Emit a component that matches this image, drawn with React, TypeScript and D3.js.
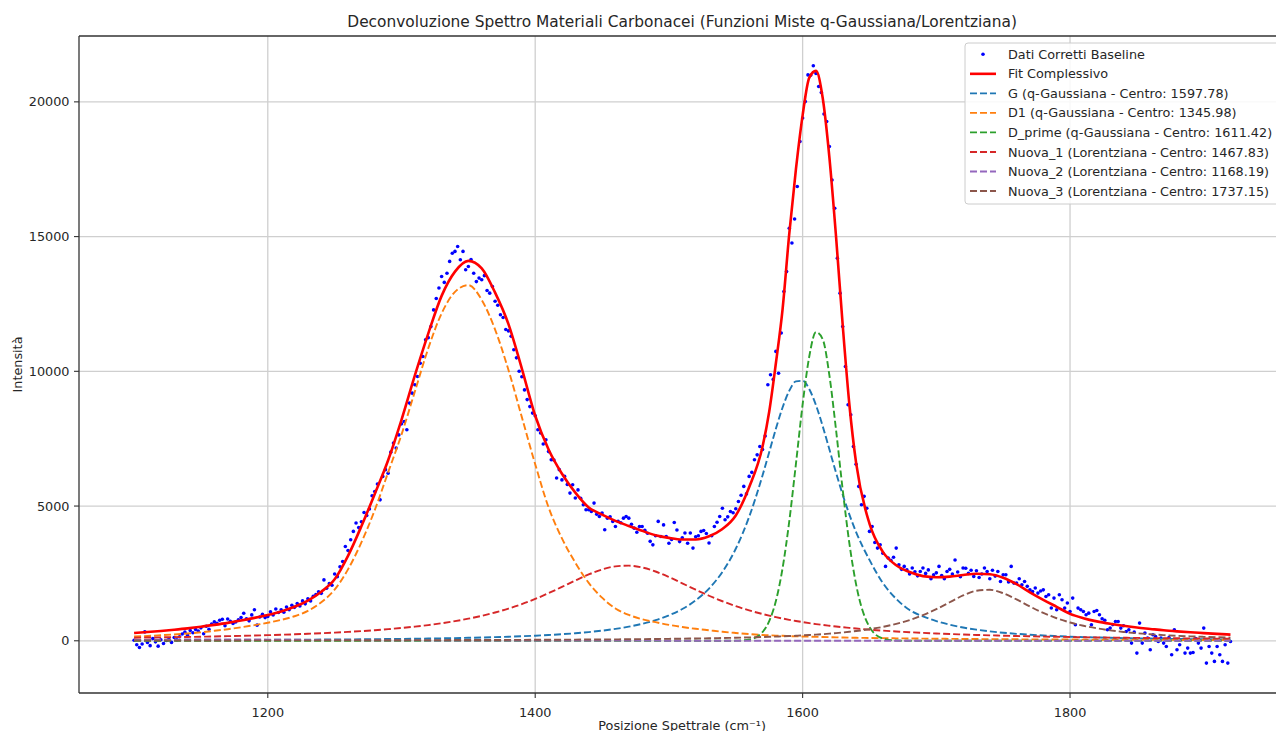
import React from 'react';
import * as d3 from 'd3';

// ---------- data ----------
const titleText = 'Deconvoluzione Spettro Materiali Carbonacei (Funzioni Miste q-Gaussiana/Lorentziana)';
const xLabel = 'Posizione Spettrale (cm\u207B\u00B9)';
const yLabel = 'Intensità';

const xTicks = [1200, 1400, 1600, 1800];
const yTicks = [0, 5000, 10000, 15000, 20000];

// measured spectrum (baseline corrected), one point every 2 cm-1 from 1100
const dotStart = 1100;
const dotStep = 2;
const dotValues = [
  20, -150, -250, -120, 330, -60, -180, 80, -40, -200,
  40, -100, 10, 60, -60, 120, 40, 150, 250, 320,
  200, 380, 300, 420, 360, 480, 260, 540, 430, 620,
  700, 650, 760, 800, 560, 810, 720, 640, 700, 780,
  860, 1020, 820, 740, 960, 1150, 580, 880, 980, 860,
  900, 1080, 960, 1180, 1050, 1150, 1060, 1250, 1150, 1320,
  1240, 1380, 1290, 1480, 1370, 1560, 1480, 1650, 1720, 1820,
  1760, 2260, 1950, 2120, 2060, 2480, 2380, 2750, 2940, 3500,
  3350, 3750, 4060, 4370, 4200, 4420, 4760, 4650, 4890, 5380,
  5540, 5820, 5230, 6100, 6350, 6220, 7000, 7340, 7150, 7640,
  8050, 8140, 7830, 8820, 9190, 9500, 9810, 10300, 10550, 11170,
  11250, 11660, 12280, 12700, 13090, 13520, 13300, 13640, 14080, 14380,
  14450, 14630, 14140, 14450, 13770, 13890, 14150, 13640, 13330, 13460,
  13400, 13550, 13000, 12900, 13150, 12600, 12450, 12100, 12000, 11550,
  11500, 11300, 10800, 10500, 10000, 9800, 9310, 8950, 8690, 8450,
  8350, 7830, 7710, 7300, 7460, 7020, 6720, 6710, 6040, 6350,
  5970, 6100, 5800, 5480, 5790, 5300, 5600, 5290, 5050, 4860,
  4860, 4800, 5110, 4700, 4610, 4740, 4120, 4550, 4600, 4430,
  4240, 4430, 4380, 4550, 4610, 4550, 4320, 4180, 4030, 4240,
  4240, 4100, 3990, 3690, 3560, 3900, 4430, 3870, 4300, 3870,
  3620, 3760, 4390, 4110, 3680, 3820, 4000, 3620, 4000, 3440,
  3860, 3900, 4060, 4090, 3980, 3630, 3900, 4240, 4400, 4610,
  4920, 4490, 4600, 4800, 4750, 4900, 5170, 5400, 5730, 5450,
  6100, 6250, 6720, 6900, 7210, 7100, 7600, 9500, 9870, 9700,
  10740, 9930, 11420, 12960, 13700, 15310, 14760, 15650, 16860, 18530,
  19400, 20010, 21000, 20990, 21340, 21050, 20570, 20350, 19550, 19270,
  18340, 17100, 16050, 14200, 12900, 11660, 10180, 8760, 8390, 7210,
  6550, 5730, 5050, 5360, 4920, 4060, 4240, 3650, 3440, 3560,
  3250, 2760, 3070, 2990, 3100, 3440, 2820, 2650, 2760, 2630,
  2480, 2700, 2560, 2410, 2570, 2700, 2500, 2630, 2300, 2450,
  2520, 2760, 2420, 2300, 2570, 2650, 2480, 3000, 2550, 2380,
  2700, 2690, 2500, 2620, 2390, 2600, 2350, 2480, 2700, 2570,
  2300, 2620, 2400, 2570, 2200, 2450, 2450, 2180, 2760, 2140,
  2140, 2300, 2080, 2200, 2020, 1890, 1830, 1960, 1770, 1850,
  1890, 1645, 1708, 1215, 1584, 1150, 1707, 1520, 1213, 1400,
  1088, 1584, 594, 1213, 1150, 1088, 965, 1026, 594, 1088,
  1126, 965, 820, 760, 408, 470, 600, 718, 718, 470,
  560, 346, 408, -87, 320, -458, 656, -87, 285, 100,
  -334, 223, 161, -25, 99, -87, -210, 120, -520, 408,
  -334, -148, 50, -458, -272, -458, -433, 80, -87, -272,
  470, -828, -210, -458, -766, -210, -520, -766, -148, -828,
  -25,
];

// x positions of the fitted curves
const fitGrid = [
  1100, 1110, 1120, 1130, 1140, 1150, 1160, 1170, 1180, 1190,
  1200, 1210, 1220, 1230, 1240, 1250, 1260, 1270, 1280, 1290,
  1300, 1310, 1320, 1330, 1340, 1350, 1360, 1370, 1380, 1390,
  1400, 1410, 1420, 1430, 1440, 1450, 1460, 1470, 1480, 1490,
  1500, 1510, 1520, 1530, 1540, 1550, 1560, 1570,
  1575, 1580, 1585, 1590, 1595, 1600, 1605, 1610, 1615, 1620, 1625, 1630, 1635, 1640,
  1650, 1660, 1670, 1680, 1690, 1700, 1710, 1720, 1730, 1740,
  1750, 1760, 1770, 1780, 1790, 1800, 1810, 1820, 1830, 1840,
  1850, 1860, 1870, 1880, 1890, 1900, 1910, 1920,
];

const fitTotal = [
  290, 325, 365, 410, 460, 520, 590, 665, 750, 850,
  960, 1090, 1260, 1490, 1820, 2280, 3150, 4250, 5450, 6700,
  8200, 9850, 11400, 12800, 13700, 14100, 13820, 12920, 11750, 10100,
  8350, 7100, 6200, 5500, 4950, 4680, 4450, 4260, 4080, 3920,
  3820, 3760, 3760, 3880, 4150, 4650, 5700, 7200,
  8500, 10300, 12300, 15100, 17500, 19500, 20900, 21150, 20150, 17950, 15000, 11700, 8750, 6600,
  4350, 3300, 2800, 2550, 2400, 2360, 2380, 2440, 2490, 2470,
  2340, 2100, 1800, 1520, 1260, 1000, 840, 720, 630, 555,
  490, 440, 390, 350, 315, 285, 255, 230,
];

const fitG = [
  20, 21, 22, 23, 24, 26, 27, 29, 30, 32,
  34, 37, 39, 42, 45, 48, 51, 55, 60, 65,
  70, 76, 83, 91, 100, 110, 121, 135, 150, 168,
  189, 214, 244, 279, 323, 376, 441, 524, 629, 764,
  942, 1178, 1498, 1939, 2554, 3414, 4597, 6134,
  6999, 7867, 8658, 9276, 9626, 9647, 9334, 8743, 7968, 7104, 6237, 5418, 4680, 4033,
  3001, 2144, 1554, 1143, 906, 729, 596, 493, 413, 349,
  298, 258, 224, 196, 173, 152, 136, 122, 110, 99,
  89, 82, 74, 68, 62, 58, 53, 49,
];

const fitD1 = [
  160, 180, 205, 235, 270, 315, 370, 430, 500, 580,
  670, 775, 910, 1110, 1430, 1900, 2650, 3650, 4850, 6250,
  7650, 9250, 10850, 12150, 12950, 13200, 12650, 11550, 10050, 8300,
  6550, 4950, 3800, 2900, 2150, 1600, 1200, 960, 800, 690,
  590, 510, 445, 390, 335, 290, 250, 215,
  203, 192, 184, 172, 165, 158, 152, 146, 140, 134, 128, 122, 116, 110,
  104, 97, 91, 86, 80, 76, 72, 67, 64, 61,
  57, 55, 52, 50, 48, 45, 42, 40, 39, 37,
  35, 34, 33, 31, 30, 29, 28, 27,
];

const fitDprime = [
  0, 0, 0, 0, 0, 0, 0, 0, 0, 0,
  0, 0, 0, 0, 0, 0, 0, 0, 0, 0,
  0, 0, 0, 0, 0, 0, 0, 0, 0, 0,
  0, 0, 0, 0, 0, 0, 0, 0, 0, 0,
  0, 0, 0, 0, 0, 4, 47, 323,
  728, 1474, 2692, 4430, 6567, 8772, 10559, 11453, 11194, 9858, 7822, 5594, 3604, 2093,
  516, 84, 9, 0, 0, 0, 0, 0, 0, 0,
  0, 0, 0, 0, 0, 0, 0, 0, 0, 0,
  0, 0, 0, 0, 0, 0, 0, 0,
];

const fitNuova1 = [
  114, 120, 127, 134, 142, 151, 160, 171, 182, 194,
  208, 223, 240, 259, 280, 303, 329, 359, 393, 431,
  475, 525, 583, 651, 729, 820, 926, 1050, 1195, 1362,
  1553, 1768, 1999, 2237, 2461, 2645, 2761, 2788, 2720, 2571,
  2365, 2132, 1896, 1671, 1467, 1286, 1129, 994,
  933, 877, 826, 778, 734, 693, 655, 620, 587, 557, 529, 502, 478, 455,
  413, 377, 345, 317, 292, 270, 250, 232, 216, 202,
  189, 177, 166, 156, 147, 139, 131, 124, 118, 112,
  106, 101, 96, 92, 88, 84, 80, 77,
];

const fitNuova2 = [
  32, 35, 39, 42, 46, 48, 50, 50, 49, 47,
  44, 41, 38, 34, 31, 27, 25, 22, 20, 18,
  16, 14, 13, 12, 11, 10, 9, 8, 8, 7,
  7, 6, 6, 5, 5, 5, 4, 4, 4, 4,
  3, 3, 3, 3, 3, 3, 3, 2,
  2, 2, 2, 2, 2, 2, 2, 2, 2, 2, 2, 2, 2, 2,
  2, 2, 2, 2, 2, 2, 2, 2, 2, 2,
  2, 2, 2, 2, 2, 2, 2, 2, 1, 1,
  1, 1, 1, 1, 1, 1, 1, 1,
];

const fitNuova3 = [
  10, 10, 11, 11, 11, 12, 12, 13, 13, 14,
  14, 15, 15, 16, 17, 17, 18, 19, 20, 21,
  22, 23, 24, 25, 27, 28, 29, 30, 32, 34,
  36, 38, 41, 44, 47, 49, 53, 57, 62, 67,
  72, 78, 86, 93, 103, 113, 125, 140,
  147, 156, 166, 176, 187, 200, 214, 229, 245, 264, 284, 308, 333, 361,
  429, 516, 627, 769, 950, 1173, 1429, 1681, 1859, 1892,
  1765, 1533, 1273, 1035, 836, 679, 557, 462, 387, 328,
  280, 242, 211, 185, 163, 146, 130, 118,
];

const componentLabels = [
  'G (q-Gaussiana - Centro: 1597.78)',
  'D1 (q-Gaussiana - Centro: 1345.98)',
  'D_prime (q-Gaussiana - Centro: 1611.42)',
  'Nuova_1 (Lorentziana - Centro: 1467.83)',
  'Nuova_2 (Lorentziana - Centro: 1168.19)',
  'Nuova_3 (Lorentziana - Centro: 1737.15)',
];
const componentSeries = [fitG, fitD1, fitDprime, fitNuova1, fitNuova2, fitNuova3];

// ---------- styling / layout ----------
const W = 1276;
const H = 731;
const AX = { left: 79, right: 1285.3, top: 36, bottom: 693 };
const X_DOMAIN: [number, number] = [1058.8, 1961];
const Y_DOMAIN: [number, number] = [-1938, 22444];
const componentColors = ['#1f77b4', '#ff7f0e', '#2ca02c', '#d62728', '#9467bd', '#8c564b'];
const FONT = '"DejaVu Sans", Verdana, sans-serif';
const FS = 12.8;

export default function App() {
  const x = d3.scaleLinear().domain(X_DOMAIN).range([AX.left, AX.right]);
  const y = d3.scaleLinear().domain(Y_DOMAIN).range([AX.bottom, AX.top]);

  const curve = (vals: number[]) =>
    d3
      .line<number>()
      .x((_, i) => x(fitGrid[i]))
      .y((v) => y(v))
      .curve(d3.curveMonotoneX)(vals) || '';

  const dots = dotValues.map((v, i) => ({ xv: dotStart + i * dotStep, yv: v }));

  const legendItems = [
    { kind: 'dot', label: 'Dati Corretti Baseline', color: '#0000ff' },
    { kind: 'solid', label: 'Fit Complessivo', color: '#ff0000' },
    ...componentLabels.map((l, i) => ({ kind: 'dash', label: l, color: componentColors[i] })),
  ];
  const legX = 965;
  const legY = 43;
  const legW = 314;
  const legH = 161;
  const rowY0 = 54.3;
  const rowDY = 19.53;

  return (
    <svg
      width={W}
      height={H}
      style={{ position: 'absolute', left: 0, top: 0, background: '#ffffff' }}
      fontFamily={FONT}
    >
      <rect x={0} y={0} width={W} height={H} fill="#ffffff" />
      <defs>
        <clipPath id="plotClip">
          <rect x={AX.left} y={AX.top} width={AX.right - AX.left} height={AX.bottom - AX.top} />
        </clipPath>
      </defs>

      {/* grid */}
      <g stroke="#cfcfcf" strokeWidth={1.3}>
        {xTicks.map((t) => (
          <line key={'gx' + t} x1={x(t)} x2={x(t)} y1={AX.top} y2={AX.bottom} />
        ))}
        {yTicks.map((t) => (
          <line key={'gy' + t} x1={AX.left} x2={AX.right} y1={y(t)} y2={y(t)} />
        ))}
      </g>

      <g clipPath="url(#plotClip)">
        {/* data points */}
        <g fill="#0000ff">
          {dots.map((d, i) => (
            <circle key={i} cx={x(d.xv)} cy={y(d.yv)} r={1.8} />
          ))}
        </g>
        {/* total fit */}
        <path d={curve(fitTotal)} fill="none" stroke="#ff0000" strokeWidth={2.6} strokeLinejoin="round" />
        {/* components */}
        {componentSeries.map((s, i) => (
          <path
            key={'c' + i}
            d={curve(s)}
            fill="none"
            stroke={componentColors[i]}
            strokeWidth={1.9}
            strokeDasharray="7 3"
          />
        ))}
      </g>

      {/* spines */}
      <g stroke="#333333" strokeWidth={1.3} fill="none">
        <line x1={AX.left} x2={AX.left} y1={AX.top} y2={AX.bottom} />
        <line x1={AX.left} x2={AX.right} y1={AX.bottom} y2={AX.bottom} />
        <line x1={AX.left} x2={AX.right} y1={AX.top} y2={AX.top} />
        <line x1={AX.right} x2={AX.right} y1={AX.top} y2={AX.bottom} />
      </g>

      {/* ticks */}
      <g stroke="#333333" strokeWidth={1.1}>
        {xTicks.map((t) => (
          <line key={'tx' + t} x1={x(t)} x2={x(t)} y1={AX.bottom} y2={AX.bottom + 5} />
        ))}
        {yTicks.map((t) => (
          <line key={'ty' + t} x1={AX.left - 5} x2={AX.left} y1={y(t)} y2={y(t)} />
        ))}
      </g>
      <g fontSize={FS} fill="#262626">
        {xTicks.map((t) => (
          <text key={'lx' + t} x={x(t)} y={716.5} textAnchor="middle">
            {String(t)}
          </text>
        ))}
        {yTicks.map((t) => (
          <text key={'ly' + t} x={69.5} y={y(t) + 4.6} textAnchor="end">
            {String(t)}
          </text>
        ))}
      </g>

      {/* axis labels */}
      <text x={(AX.left + AX.right) / 2} y={729.5} textAnchor="middle" fontSize={FS} fill="#262626">
        {xLabel}
      </text>
      <text
        transform={`translate(22, ${(AX.top + AX.bottom) / 2}) rotate(-90)`}
        textAnchor="middle"
        fontSize={FS}
        fill="#262626"
      >
        {yLabel}
      </text>

      {/* title */}
      <text x={(AX.left + AX.right) / 2} y={27} textAnchor="middle" fontSize={15.4} fill="#262626">
        {titleText}
      </text>

      {/* legend */}
      <g>
        <rect
          x={legX}
          y={legY}
          width={legW}
          height={legH}
          rx={3}
          fill="#ffffff"
          fillOpacity={0.85}
          stroke="#cccccc"
          strokeWidth={1}
        />
        {legendItems.map((it, i) => {
          const cy = rowY0 + i * rowDY;
          return (
            <g key={'leg' + i}>
              {it.kind === 'dot' && <circle cx={983} cy={cy} r={1.8} fill={it.color} />}
              {it.kind === 'solid' && (
                <line x1={970} x2={996} y1={cy} y2={cy} stroke={it.color} strokeWidth={2.6} />
              )}
              {it.kind === 'dash' && (
                <line x1={970} x2={996} y1={cy} y2={cy} stroke={it.color} strokeWidth={1.9} strokeDasharray="7 3" />
              )}
              <text x={1008} y={cy + 4.6} fontSize={FS} fill="#262626">
                {it.label}
              </text>
            </g>
          );
        })}
      </g>
    </svg>
  );
}
